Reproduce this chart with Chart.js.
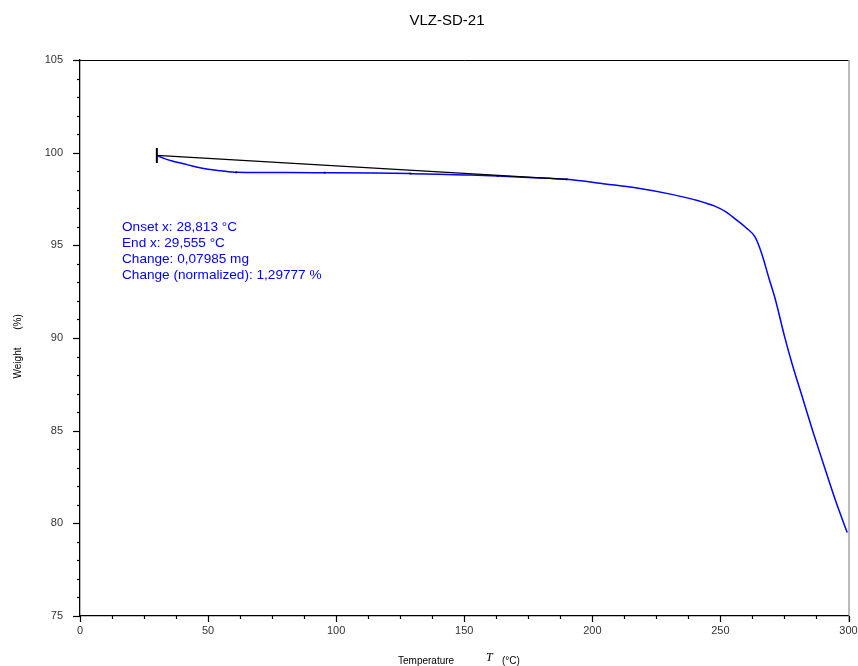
<!DOCTYPE html>
<html>
<head>
<meta charset="utf-8">
<script src="https://cdn.jsdelivr.net/npm/chart.js@4.4.0/dist/chart.umd.min.js"></script>
<style>
  body { margin: 0; background: #fff; }
  #wrap { width: 858px; height: 666px; }
</style>
</head>
<body>
<div id="wrap"><canvas id="tga" width="858" height="666"></canvas></div>
<script>
// TGA curve
const temps = [30, 33, 36, 40, 45, 50, 55, 61, 70, 80, 95, 115, 129, 140, 150, 163, 175, 190,
               205, 218, 231, 241, 248, 252, 256, 260, 263.5, 266, 269, 271.5, 275, 278, 282,
               286, 290, 295, 299.5];
const weights = [99.85, 99.68, 99.55, 99.42, 99.24, 99.1, 99.02, 98.94, 98.93, 98.93, 98.92,
                 98.9, 98.87, 98.84, 98.8, 98.74, 98.66, 98.56, 98.31, 98.08, 97.75, 97.42,
                 97.1, 96.82, 96.4, 95.95, 95.45, 94.6, 93.2, 92.05, 90.1, 88.6, 86.8, 85.0,
                 83.3, 81.2, 79.5];

// step baseline drawn by the analysis
const baseT = [30, 190];
const baseW = [99.85, 98.56];

// little black marks sitting on the curve
const markT = [61, 95.5, 129, 163, 190];
const markW = [98.94, 98.92, 98.87, 98.74, 98.56];

const onsetT = [30];
const onsetW = [99.85];

const xTicks = [0, 50, 100, 150, 200, 250, 300];
const yTicks = [75, 80, 85, 90, 95, 100, 105];

const notes = [
    'Onset x: 28,813 °C',
    'End x: 29,555 °C',
    'Change: 0,07985 mg',
    'Change (normalized): 1,29777 %'
];

function pts(xs, ys) {
    return xs.map((x, i) => ({ x: x, y: ys[i] }));
}

const FONT = '"Liberation Sans", Arial, sans-serif';

const decor = {
    id: 'decor',
    afterDraw(chart) {
        const ctx = chart.ctx;
        const xs = chart.scales.x, ys = chart.scales.y;
        const a = chart.chartArea;
        ctx.save();

        // frame
        ctx.lineWidth = 1;
        ctx.strokeStyle = '#000';
        ctx.beginPath();
        ctx.moveTo(a.left, a.top + 0.5);
        ctx.lineTo(a.right, a.top + 0.5);
        ctx.stroke();
        ctx.strokeStyle = '#777';
        ctx.beginPath();
        ctx.moveTo(a.right + 0.5, a.top);
        ctx.lineTo(a.right + 0.5, a.bottom + 6);
        ctx.stroke();

        // tick marks, major and minor
        ctx.strokeStyle = '#000';
        ctx.lineWidth = 1.2;
        for (let v = 0; v <= 300; v += 12.5) {
            const px = Math.round(xs.getPixelForValue(v)) + 0.5;
            const len = (v % 50 === 0) ? 6 : 3;
            ctx.beginPath();
            ctx.moveTo(px, a.bottom);
            ctx.lineTo(px, a.bottom + len);
            ctx.stroke();
        }
        for (let v = 75; v <= 105; v += 1) {
            const py = Math.round(ys.getPixelForValue(v)) + 0.5;
            const len = (v % 5 === 0) ? 7 : 3;
            ctx.beginPath();
            ctx.moveTo(a.left - len, py);
            ctx.lineTo(a.left, py);
            ctx.stroke();
        }

        // title
        ctx.fillStyle = '#000';
        ctx.font = '15px ' + FONT;
        ctx.textAlign = 'center';
        ctx.textBaseline = 'middle';
        ctx.fillText('VLZ-SD-21', 447, 21);

        // x axis title
        ctx.font = '10px ' + FONT;
        ctx.textAlign = 'left';
        ctx.fillText('Temperature', 398, 661);
        ctx.fillText('(°C)', 502, 661);
        ctx.font = 'italic 12px "Liberation Serif", "Times New Roman", serif';
        ctx.fillText('T', 486, 658);

        // y axis title
        ctx.save();
        ctx.translate(18, 0);
        ctx.rotate(-Math.PI / 2);
        ctx.font = '10px ' + FONT;
        ctx.textAlign = 'center';
        ctx.fillText('Weight', -363, 0);
        ctx.fillText('(%)', -322, 0);
        ctx.restore();

        // analysis notes
        ctx.fillStyle = '#0000ff';
        ctx.font = '13.6px ' + FONT;
        ctx.textAlign = 'left';
        notes.forEach((t, i) => ctx.fillText(t, 122, 227 + i * 16));

        ctx.restore();
    }
};

new Chart(document.getElementById('tga'), {
    type: 'scatter',
    data: {
        datasets: [{
            label: 'onset',
            data: pts(onsetT, onsetW),
            showLine: false,
            pointStyle: 'line',
            rotation: 90,
            radius: 7.5,
            borderColor: '#000',
            borderWidth: 2
        }, {
            label: 'marks',
            data: pts(markT, markW),
            showLine: false,
            pointStyle: 'rect',
            radius: 1.2,
            backgroundColor: '#000',
            borderColor: '#000',
            borderWidth: 0
        }, {
            label: 'baseline',
            data: pts(baseT, baseW),
            showLine: true,
            borderColor: '#000',
            borderWidth: 1.3,
            pointRadius: 0
        }, {
            label: 'weight',
            data: pts(temps, weights),
            showLine: true,
            borderColor: '#0000ff',
            borderWidth: 1.5,
            pointRadius: 0,
            cubicInterpolationMode: 'monotone'
        }]
    },
    options: {
        responsive: false,
        animation: false,
        events: [],
        layout: { padding: { left: 0, right: 7, top: 60, bottom: 0 } },
        plugins: {
            legend: { display: false },
            tooltip: { enabled: false }
        },
        scales: {
            x: {
                type: 'linear',
                min: 0,
                max: 300,
                afterFit: s => { s.height = 50; s.paddingLeft = 0; s.paddingRight = 0; },
                afterBuildTicks: s => { s.ticks = xTicks.map(v => ({ value: v })); },
                grid: { display: false, drawTicks: false },
                border: { display: true, color: '#000', width: 1.3 },
                ticks: {
                    padding: 8,
                    color: '#333',
                    font: { family: FONT, size: 11 }
                }
            },
            y: {
                type: 'linear',
                min: 75,
                max: 105,
                afterFit: s => { s.width = 80; s.paddingTop = 0; s.paddingBottom = 0; },
                afterBuildTicks: s => { s.ticks = yTicks.map(v => ({ value: v })); },
                grid: { display: false, drawTicks: false },
                border: { display: true, color: '#000', width: 1.3 },
                ticks: {
                    padding: 17,
                    color: '#333',
                    font: { family: FONT, size: 11 }
                }
            }
        }
    },
    plugins: [decor]
});
</script>
</body>
</html>
